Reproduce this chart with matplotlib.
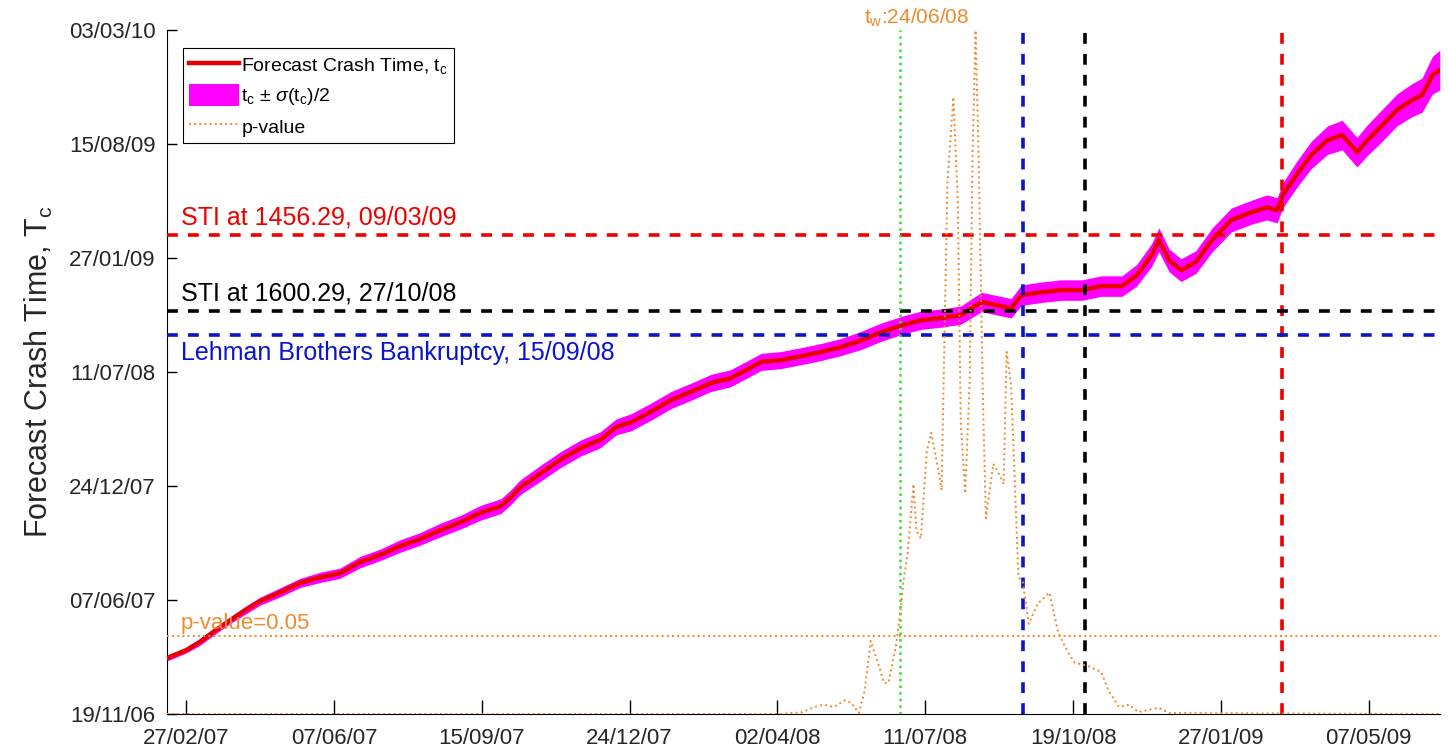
import numpy as np
import matplotlib
matplotlib.use("Agg")
import matplotlib.pyplot as plt
import matplotlib.dates as mdates
from matplotlib.lines import Line2D
from matplotlib.patches import Patch

plt.rcParams["font.family"] = ["Liberation Sans", "DejaVu Sans"]
plt.rcParams["mathtext.fontset"] = "custom"
plt.rcParams["mathtext.rm"] = "Liberation Sans"
plt.rcParams["mathtext.it"] = "Liberation Sans:italic"

# -----------------------------
# Data
# -----------------------------
# observation day (days after 14/02/07) -> forecast crash time (days after 19/11/06)
obs_start = np.datetime64("2007-02-14")
tc_start = np.datetime64("2006-11-19")

obs_day = [0, 13, 22, 33, 43, 53, 63, 77, 90, 104, 117, 131, 144, 158, 171,
           185, 199, 212, 226, 232, 239, 253, 266, 280, 293, 304, 314, 327,
           341, 354, 368, 381, 392, 402, 415, 429, 442, 456, 470, 483, 497,
           510, 524, 537, 551, 564, 571, 578, 591, 605, 619, 632, 646, 656,
           666, 671, 678, 686, 696, 707, 720, 734, 744, 751, 755, 764, 774,
           785, 795, 805, 812, 822, 832, 842, 849, 856, 861]
tc_day = [98, 112, 126, 147, 165, 182, 198, 214, 230, 240, 247, 267, 279, 295,
          307, 323, 337, 353, 365, 379, 398, 423, 446, 467, 481, 504, 512,
          530, 551, 565, 581, 589, 604, 618, 621, 628, 635, 644, 656, 670,
          682, 691, 695, 700, 723, 716, 712, 735, 740, 744, 744, 751, 751,
          770, 805, 832, 796, 779, 793, 832, 867, 881, 889, 884, 911, 946,
          981, 1007, 1016, 986, 1007, 1033, 1060, 1077, 1086, 1121, 1130]
# half of sigma(t_c), days
tc_half_sigma = [5, 5, 6, 6, 6, 7, 7,
                 8, 8, 9, 9, 10, 10, 11, 11,
                 12, 12, 13, 13, 13, 13, 14, 14, 14, 14, 14, 15, 15, 15, 15, 15,
                 15, 15, 15, 15, 15, 15, 15, 16, 16, 16, 16, 16, 16, 17,
                 17, 17, 18, 18, 18, 18, 18, 18,
                 19, 20, 21, 20, 20, 20, 21, 21, 21, 22, 22,
                 22, 23, 24, 25, 26, 26, 27, 28, 28, 29, 30, 33, 35]

# p-value of the fit
p_day = [0, 413, 429, 438, 444, 451, 459, 463, 468, 472, 476, 482, 485, 488,
         493, 497, 498, 501, 505, 507, 510, 514, 517, 522, 524, 526, 528, 532,
         535, 537, 540, 543, 545, 547, 549, 552, 554, 559, 562, 566, 568, 571,
         576, 579, 583, 589, 597, 603, 610, 614, 623, 632, 637, 644, 651, 657,
         671, 678, 861]
p_value = [0.0, 0.0, 0.001, 0.0045, 0.006, 0.0045, 0.009, 0.007, 0.0006,
           0.015, 0.047, 0.030, 0.020, 0.020, 0.043, 0.073, 0.084, 0.103,
           0.148, 0.118, 0.113, 0.169, 0.181, 0.156, 0.144, 0.244, 0.342,
           0.397, 0.329, 0.188, 0.142, 0.214, 0.362, 0.44, 0.362, 0.201,
           0.126, 0.161, 0.156, 0.148, 0.233, 0.212, 0.088, 0.085, 0.058,
           0.071, 0.078, 0.052, 0.039, 0.033, 0.031, 0.027, 0.015, 0.0045,
           0.006, 0.0013, 0.004, 0.0006, 0.0]

p_threshold = 0.05

# events
event_dates = ["2009-03-09", "2008-10-27", "2008-09-15"]
event_labels = ["STI at 1456.29, 09/03/09",
                "STI at 1600.29, 27/10/08",
                "Lehman Brothers Bankruptcy, 15/09/08"]
event_colors = ["#ee0000", "#000000", "#0a14c8"]
tw_date = "2008-06-24"

orange = "#ef8a2c"

# -----------------------------
# Convert to dates
# -----------------------------
x = obs_start + np.array(obs_day).astype("timedelta64[D]")
tc = tc_start + np.array(tc_day).astype("timedelta64[D]")
half = np.array(tc_half_sigma).astype("timedelta64[D]")
xp = obs_start + np.array(p_day).astype("timedelta64[D]")

xn = mdates.date2num(x)
tcn = mdates.date2num(tc)
lo = mdates.date2num(tc - half)
hi = mdates.date2num(tc + half)

# -----------------------------
# Figure
# -----------------------------
fig = plt.figure(figsize=(14.48, 7.53), dpi=100)
ax = fig.add_axes([0.1153, 0.0518, 0.879, 0.908])

ax.fill_between(xn, lo, hi, color="#ff00ff", linewidth=0, zorder=2)
ax.plot(xn, tcn, color="#e60000", linewidth=3.2, zorder=3)

dash = (0, (3, 2.8))
for d, lab, c in zip(event_dates, event_labels, event_colors):
    dn = mdates.date2num(np.datetime64(d))
    ax.axhline(dn, color=c, linewidth=2.6, linestyle=dash, zorder=4)
    ax.axvline(dn, color=c, linewidth=2.6, linestyle=dash, zorder=4)
    below = lab.startswith("Lehman")
    ax.annotate(lab, xy=(0.011, dn), xycoords=("axes fraction", "data"),
                xytext=(0, -5 if below else 4), textcoords="offset points",
                va="top" if below else "bottom", ha="left",
                fontsize=18, color=c)

twn = mdates.date2num(np.datetime64(tw_date))
ax.axvline(twn, color="#33dd33", linewidth=1.8, linestyle=":", zorder=4)
ax.annotate("$\\mathregular{t_w}$:24/06/08", xy=(twn, 1.0),
            xycoords=("data", "axes fraction"), xytext=(-26, 1),
            textcoords="offset points", ha="left", va="bottom",
            fontsize=15, color=orange)

# axes limits and ticks
ax.set_xlim(xn[0], xn[-1])
ylo = mdates.date2num(np.datetime64("2006-11-19"))
yhi = mdates.date2num(np.datetime64("2010-03-03"))
ax.set_ylim(ylo, yhi)

xticks = mdates.date2num(np.datetime64("2007-02-27") +
                         np.arange(0, 801, 100).astype("timedelta64[D]"))
yticks = mdates.date2num(np.datetime64("2006-11-19") +
                         np.arange(0, 1201, 200).astype("timedelta64[D]"))
ax.set_xticks(xticks)
ax.set_yticks(yticks)
fmt = mdates.DateFormatter("%d/%m/%y")
ax.xaxis.set_major_formatter(fmt)
ax.yaxis.set_major_formatter(fmt)
ax.tick_params(direction="in", labelsize=16, labelcolor="#262626",
               width=1)
ax.tick_params(axis="x", length=10, pad=10)
ax.tick_params(axis="y", length=7, pad=8)
ax.spines["top"].set_visible(False)
ax.spines["right"].set_visible(False)
ax.set_ylabel("Forecast Crash Time, $\\mathregular{T_c}$", fontsize=22,
              color="#262626", labelpad=10)

# p-value on its own scale
ax2 = ax.twinx()
ax2.plot(mdates.date2num(xp), p_value, color=orange, linewidth=1.4,
         linestyle=":", zorder=3)
ax2.axhline(p_threshold, color=orange, linewidth=1.4, linestyle=":")
ax2.set_ylim(0, 0.44)
ax2.set_xlim(xn[0], xn[-1])
ax2.axis("off")
ax2.annotate("p-value=0.05", xy=(0.011, p_threshold),
             xycoords=("axes fraction", "data"), xytext=(0, 2),
             textcoords="offset points", ha="left", va="bottom",
             fontsize=16, color=orange)

handles = [
    Line2D([], [], color="#e60000", linewidth=3.2),
    Patch(facecolor="#ff00ff", edgecolor="none"),
    Line2D([], [], color=orange, linewidth=1.4, linestyle=":"),
]
labels = [
    "Forecast Crash Time, $\\mathregular{t_c}$",
    "$\\mathregular{t_c}$ $\\pm$ $\\sigma$($\\mathregular{t_c}$)/2",
    "p-value",
]
leg = ax2.legend(handles, labels, loc="upper left",
                 bbox_to_anchor=(0.0126, 0.974), borderaxespad=0,
                 fontsize=14, handlelength=2.6, handleheight=1.35,
                 handletextpad=0.1, labelspacing=0.4, borderpad=0.3,
                 fancybox=False, framealpha=1, edgecolor="black")
leg.get_frame().set_linewidth(0.8)

fig.savefig("out.png", dpi=100)
